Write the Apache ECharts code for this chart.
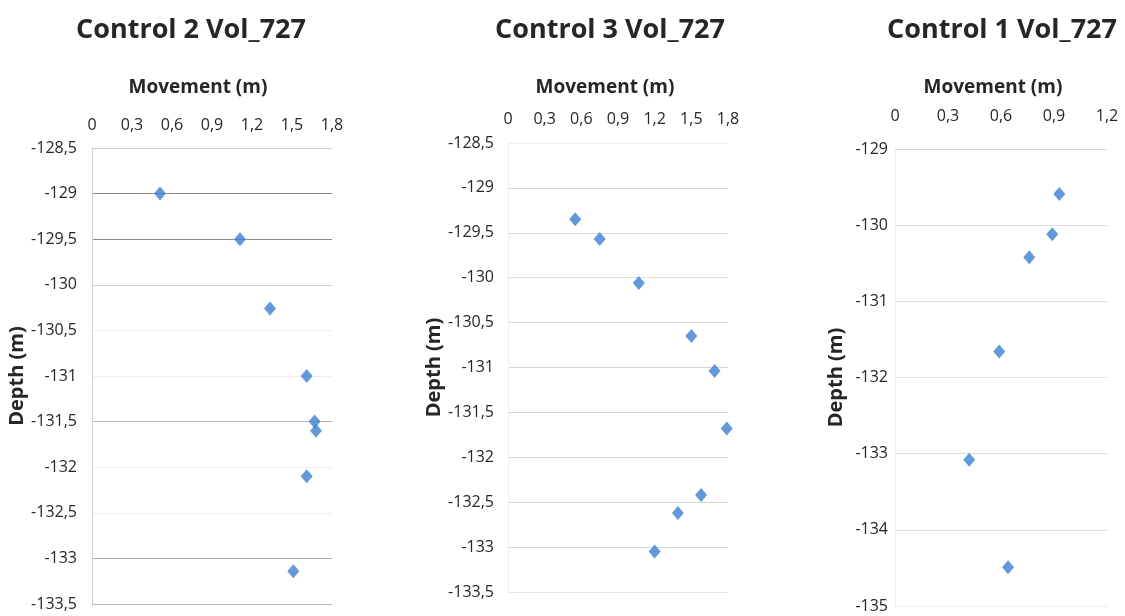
<!DOCTYPE html>
<html><head><meta charset="utf-8">
<script src="https://cdn.jsdelivr.net/npm/echarts@6/dist/echarts.min.js"></script>
<style>html,body{margin:0;padding:0;background:#fff}#c{width:1125px;height:616px}</style>
</head><body><div id="c"></div>
<script>
const titles = ['Control 2 Vol_727', 'Control 3 Vol_727', 'Control 1 Vol_727'];
const xName = 'Movement (m)';
const yName = 'Depth (m)';
// [movement, depth]
const control2 = [[0.51,-129.0],[1.11,-129.5],[1.335,-130.26],[1.61,-131.0],[1.67,-131.5],[1.68,-131.6],[1.61,-132.1],[1.51,-133.14]];
const control3 = [[0.55,-129.35],[0.75,-129.57],[1.07,-130.06],[1.50,-130.65],[1.69,-131.04],[1.79,-131.68],[1.58,-132.42],[1.39,-132.62],[1.20,-133.05]];
const control1 = [[0.93,-129.59],[0.89,-130.12],[0.76,-130.42],[0.59,-131.66],[0.42,-133.08],[0.64,-134.49]];
const xRanges = [[0,1.8,0.3],[0,1.8,0.3],[0,1.2,0.3]];
const yRanges = [[-133.5,-128.5,0.5],[-133.5,-128.5,0.5],[-135,-129,1]];

const font = '"Open Sans", "Noto Sans", sans-serif';
const comma = v => String(+v.toFixed(2)).replace('.', ',');
const grids = [
  {left:92, top:148, width:240, height:456},
  {left:508, top:143, width:220, height:449},
  {left:895, top:149, width:212, height:457}
];
const titleX = [186, 605, 997];
const nameX = [193, 600, 988];
const xLabelMargin = [15, 16, 25];
const yLabelMargin = [15, 14, 7];
const yNameGap = [60, 64, 49];
const splitColors = [
  ['#b8b8b8','#b0b0b0','#eeeeee','#eeeeee','#b4b4b4','#eeeeee','#eeeeee','#cfcfcf','#8a8a8a','#8a8a8a','#cccccc'],
  ['#e6e6e6','#d8d8d8','#d4d4d4','#d4d4d4','#d4d4d4','#d4d4d4','#d8d8d8','#dedede','#d8d8d8','#d8d8d8','#eeeeee'],
  ['#eeeeee','#dedede','#dedede','#e2e2e2','#dedede','#dedede','#d6d6d6']
];
const axisLineColors = ['#cfcfcf','#ececec','#ececec'];
const dataSets = [control2, control3, control1];

const title = [];
titles.forEach((t,i)=>{
  title.push({text:t, left:titleX[i], top:12, textAlign:'center',
    textStyle:{fontFamily:font, fontWeight:700, fontSize:27, color:'#262626'}});
  title.push({text:xName, left:nameX[i], top:73, textAlign:'center',
    textStyle:{fontFamily:font, fontWeight:700, fontSize:19, color:'#262626'}});
});

const option = {
  animation:false,
  backgroundColor:'#fff',
  title,
  grid: grids,
  xAxis: xRanges.map((r,i)=>({
    type:'value', gridIndex:i, position:'top', min:r[0], max:r[1], interval:r[2],
    axisLine:{show:false}, axisTick:{show:false}, splitLine:{show:false},
    axisLabel:{margin:xLabelMargin[i], fontFamily:font, fontSize:16, color:'#262626', formatter:comma}
  })),
  yAxis: yRanges.map((r,i)=>({
    type:'value', gridIndex:i, min:r[0], max:r[1], interval:r[2],
    name:yName, nameLocation:'middle', nameGap:yNameGap[i], nameRotate:90,
    nameTextStyle:{fontFamily:font, fontWeight:700, fontSize:20, color:'#262626'},
    axisLine:{show:true, lineStyle:{color:axisLineColors[i]}}, axisTick:{show:false},
    splitLine:{show:true, lineStyle:{color:splitColors[i], width:1}},
    axisLabel:{margin:yLabelMargin[i], fontFamily:font, fontSize:16, color:'#262626', formatter:comma}
  })),
  series: dataSets.map((d,i)=>({
    type:'scatter', xAxisIndex:i, yAxisIndex:i, data:d,
    symbol:'diamond', symbolSize:[12,14],
    itemStyle:{color:'#3d7fcf'}
  }))
};
echarts.init(document.getElementById('c')).setOption(option);
</script></body></html>
